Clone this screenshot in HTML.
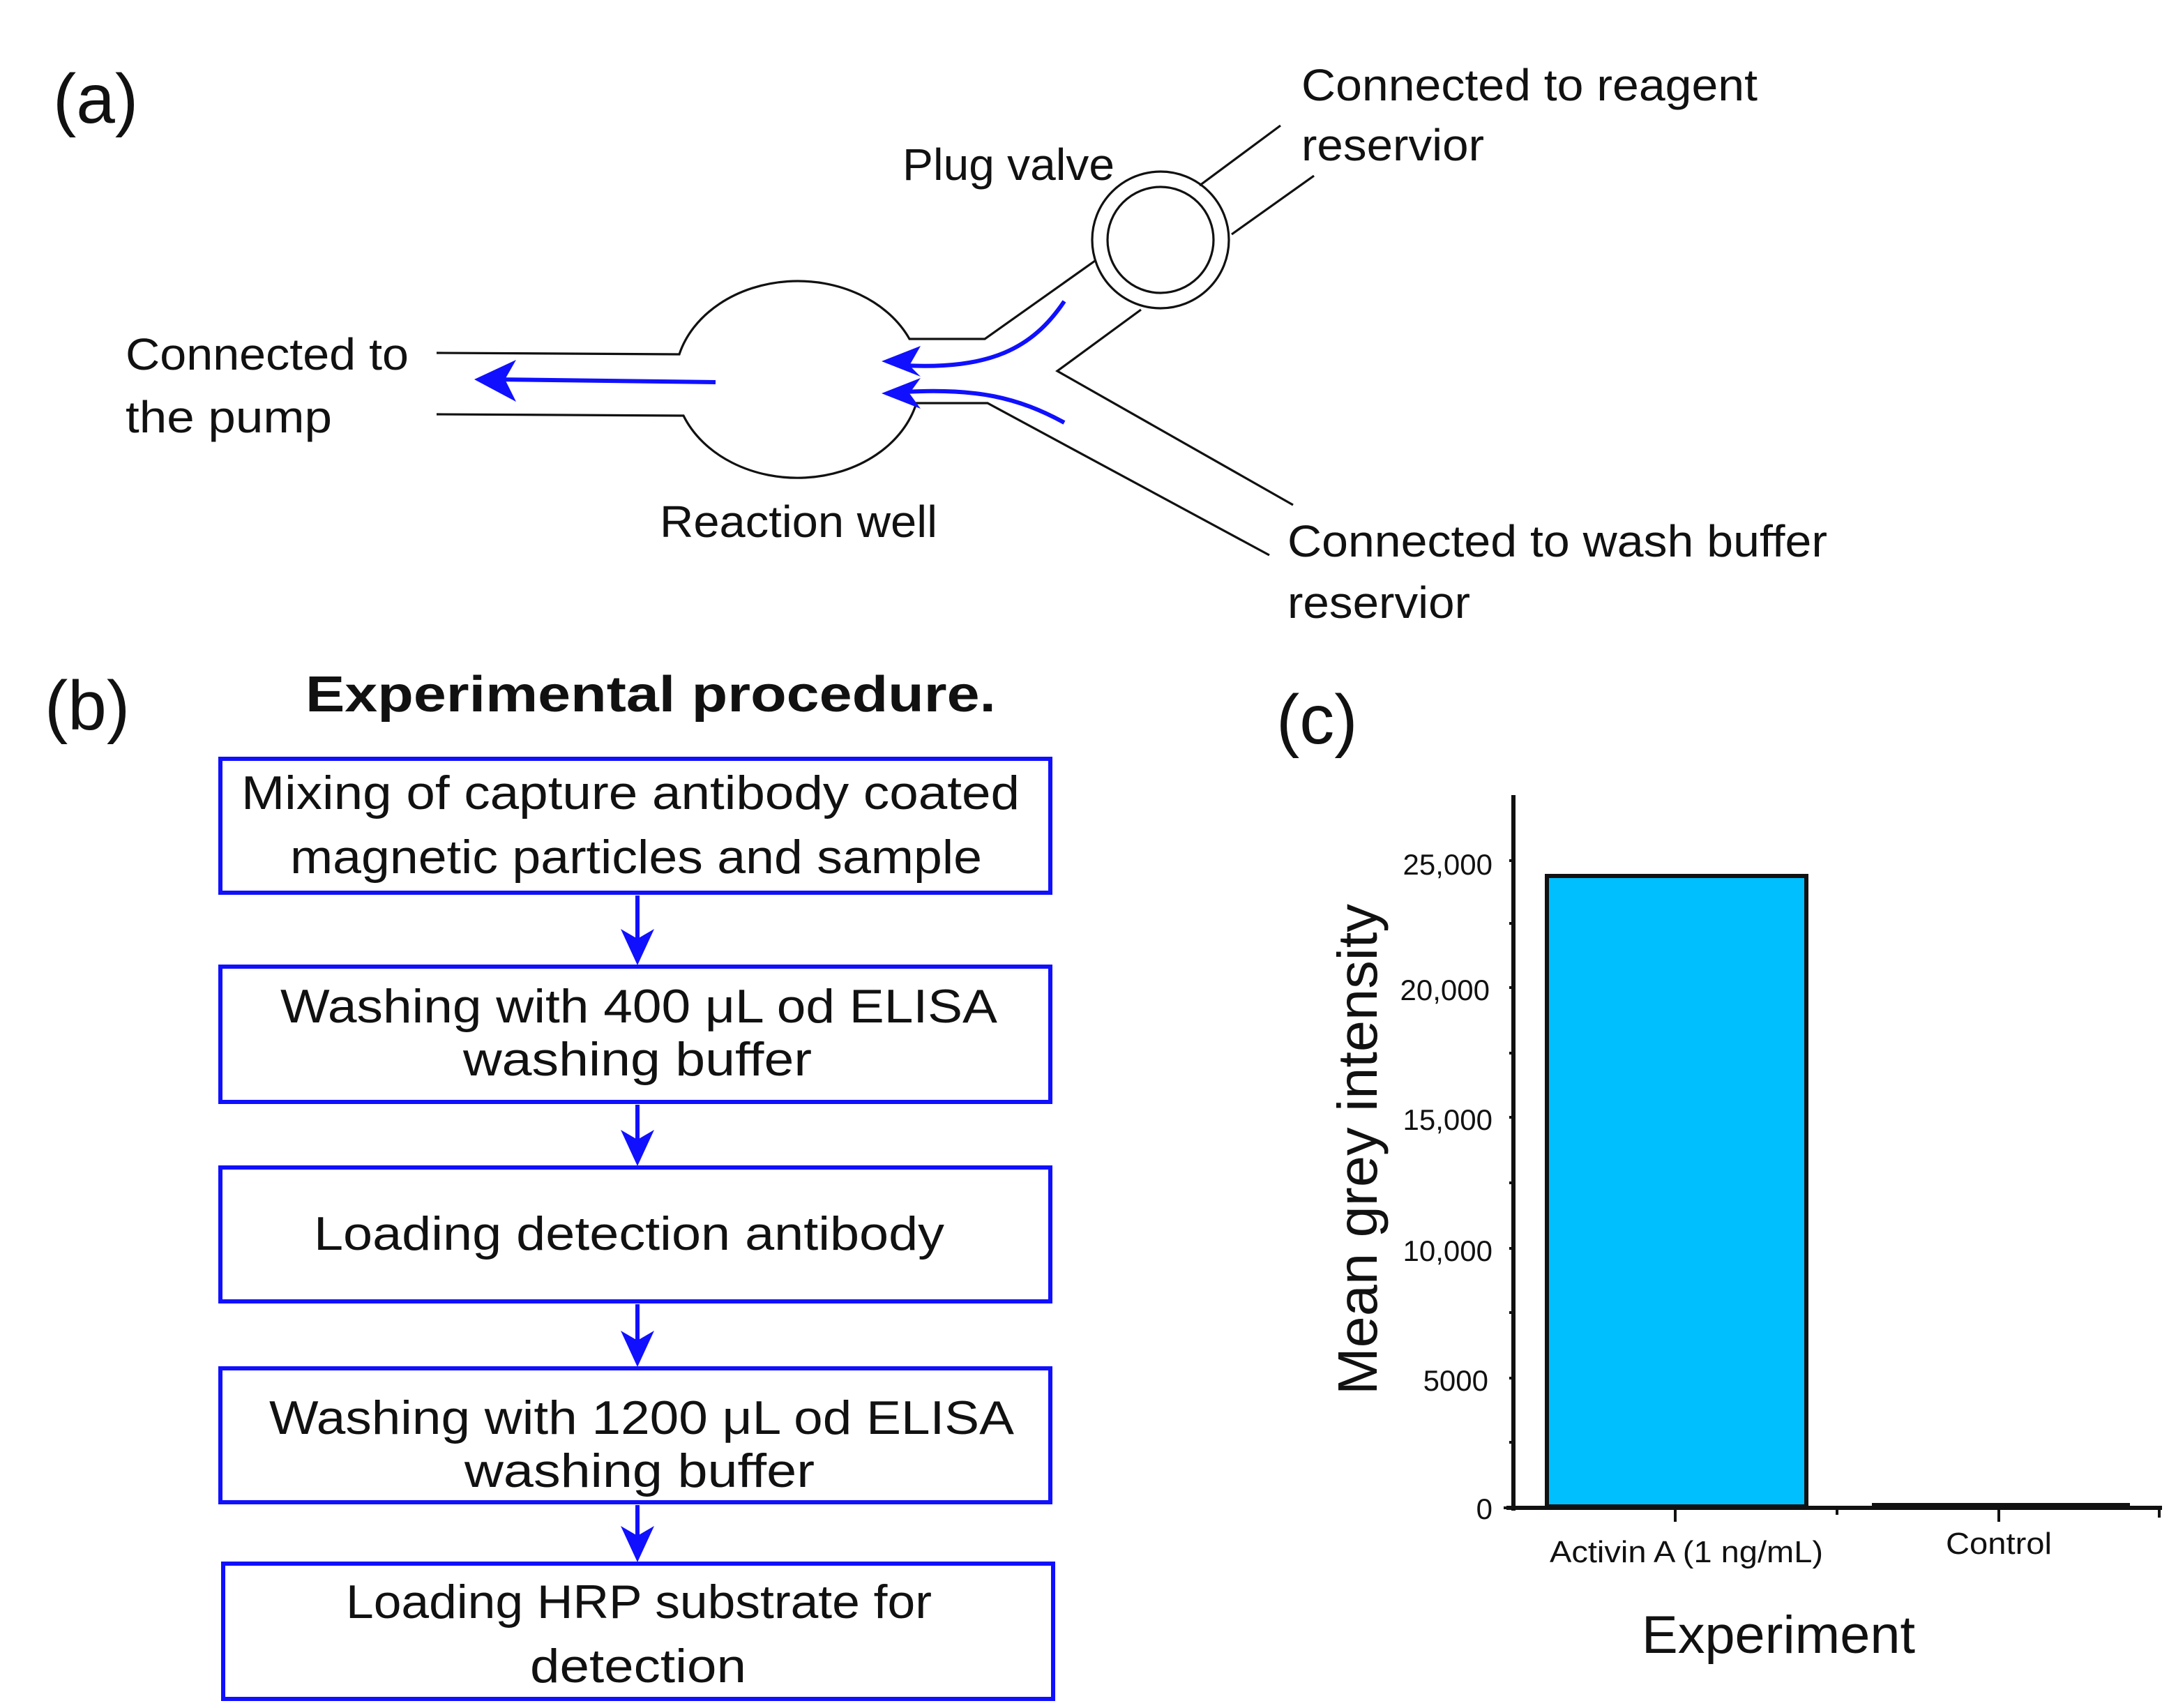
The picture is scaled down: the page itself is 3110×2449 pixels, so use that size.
<!DOCTYPE html>
<html><head><meta charset="utf-8"><style>
html,body{margin:0;padding:0;background:#fff}
svg{display:block}
text{font-family:"Liberation Sans",sans-serif;fill:#111}
</style></head><body>
<svg width="3110" height="2449" viewBox="0 0 1555 1224.5" xmlns="http://www.w3.org/2000/svg">
<!-- (a) -->
<text x="38" y="88" font-size="50">(a)</text>
<g font-size="32">
<text x="647" y="129" textLength="152" lengthAdjust="spacingAndGlyphs">Plug valve</text>
<text x="933" y="72" textLength="327" lengthAdjust="spacingAndGlyphs">Connected to reagent</text>
<text x="933" y="115" textLength="131" lengthAdjust="spacingAndGlyphs">reservior</text>
<text x="90" y="265" textLength="203" lengthAdjust="spacingAndGlyphs">Connected to</text>
<text x="90" y="310" textLength="148" lengthAdjust="spacingAndGlyphs">the pump</text>
<text x="473" y="385" textLength="199" lengthAdjust="spacingAndGlyphs">Reaction well</text>
<text x="923" y="399" textLength="387" lengthAdjust="spacingAndGlyphs">Connected to wash buffer</text>
<text x="923" y="443" textLength="131" lengthAdjust="spacingAndGlyphs">reservior</text>
</g>
<g fill="none" stroke="#111" stroke-width="1.6">
<circle cx="832" cy="172" r="49"/>
<circle cx="832" cy="172" r="38"/>
<path d="M313,253 L487,254 A88,71 0 0 1 652,243 L706,243 L785,187"/>
<path d="M313,297 L490,298 A88,71 0 0 0 657,289 L708,289 L910,398"/>
<path d="M818,222 L758,266 L927,362"/>
<path d="M860,133 L918,90"/>
<path d="M883,168 L942,126"/>
</g>
<g fill="none" stroke="#1010ff" stroke-width="3">
<path d="M513,274 L355,272"/>
<path d="M763,216 C740,250 710,265 648,262"/>
<path d="M763,303 C730,285 700,278 648,281"/>
</g>
<g fill="#1010ff">
<path d="M340,272 L370,258 L362,272 L370,288 Z"/>
<path d="M632,259 L660,248 L652,262 L660,270 Z"/>
<path d="M632,282 L660,271 L652,282 L660,293 Z"/>
</g>
<!-- (b) -->
<text x="32" y="523" font-size="50">(b)</text>
<text x="219" y="510" font-size="36" font-weight="bold" textLength="495" lengthAdjust="spacingAndGlyphs">Experimental procedure.</text>
<g fill="none" stroke="#1010ff" stroke-width="3">
<rect x="158" y="544" width="595" height="96"/>
<rect x="158" y="693" width="595" height="97"/>
<rect x="158" y="837" width="595" height="96"/>
<rect x="158" y="981" width="595" height="96"/>
<rect x="160" y="1121" width="595" height="97"/>
<line x1="457" y1="642" x2="457" y2="680"/>
<line x1="457" y1="792" x2="457" y2="825"/>
<line x1="457" y1="935" x2="457" y2="968"/>
<line x1="457" y1="1079" x2="457" y2="1108"/>
</g>
<g fill="#1010ff">
<path d="M445,666 L457,692 L469,666 L457,673 Z"/>
<path d="M445,810 L457,836 L469,810 L457,817 Z"/>
<path d="M445,954 L457,980 L469,954 L457,961 Z"/>
<path d="M445,1094 L457,1120 L469,1094 L457,1101 Z"/>
</g>
<g font-size="34">
<text x="173" y="580" textLength="558" lengthAdjust="spacingAndGlyphs">Mixing of capture antibody coated</text>
<text x="208" y="626" textLength="496" lengthAdjust="spacingAndGlyphs">magnetic particles and sample</text>
<text x="201" y="733" textLength="514" lengthAdjust="spacingAndGlyphs">Washing with 400 μL od ELISA</text>
<text x="332" y="771" textLength="250" lengthAdjust="spacingAndGlyphs">washing buffer</text>
<text x="225" y="896" textLength="452" lengthAdjust="spacingAndGlyphs">Loading detection antibody</text>
<text x="193" y="1028" textLength="534" lengthAdjust="spacingAndGlyphs">Washing with 1200 μL od ELISA</text>
<text x="333" y="1066" textLength="251" lengthAdjust="spacingAndGlyphs">washing buffer</text>
<text x="248" y="1160" textLength="420" lengthAdjust="spacingAndGlyphs">Loading HRP substrate for</text>
<text x="380" y="1206" textLength="155" lengthAdjust="spacingAndGlyphs">detection</text>
</g>
<!-- (c) -->
<text x="915" y="533" font-size="50">(c)</text>
<g stroke="#111" fill="none">
<line x1="1085" y1="570" x2="1085" y2="1083" stroke-width="3"/>
<line x1="1080" y1="1081" x2="1550" y2="1081" stroke-width="3"/>
<g stroke-width="2">
<line x1="1201" y1="1081" x2="1201" y2="1091"/>
<line x1="1433" y1="1081" x2="1433" y2="1091"/>
<line x1="1317" y1="1081" x2="1317" y2="1086"/>
<line x1="1548" y1="1081" x2="1548" y2="1088"/>
<line x1="1078" y1="1081" x2="1085" y2="1081"/>
<line x1="1082" y1="988" x2="1085" y2="988"/>
<line x1="1082" y1="895" x2="1085" y2="895"/>
<line x1="1082" y1="801" x2="1085" y2="801"/>
<line x1="1082" y1="708" x2="1085" y2="708"/>
<line x1="1082" y1="617" x2="1085" y2="617"/>
<line x1="1082" y1="1034" x2="1085" y2="1034"/>
<line x1="1082" y1="941" x2="1085" y2="941"/>
<line x1="1082" y1="848" x2="1085" y2="848"/>
<line x1="1082" y1="755" x2="1085" y2="755"/>
<line x1="1082" y1="662" x2="1085" y2="662"/>
</g>
</g>
<rect x="1109" y="628" width="186" height="452" fill="#00bfff" stroke="#111" stroke-width="3"/>
<line x1="1342" y1="1079" x2="1527" y2="1079" stroke="#111" stroke-width="3"/>
<g font-size="21" text-anchor="end">
<text x="1070" y="1089">0</text>
<text x="1067" y="997">5000</text>
<text x="1070" y="904">10,000</text>
<text x="1070" y="810">15,000</text>
<text x="1068" y="717">20,000</text>
<text x="1070" y="627">25,000</text>
</g>
<text x="1111" y="1120" font-size="22" textLength="196" lengthAdjust="spacingAndGlyphs">Activin A (1 ng/mL)</text>
<text x="1395" y="1114" font-size="22" textLength="76" lengthAdjust="spacingAndGlyphs">Control</text>
<text x="1177" y="1185" font-size="38" textLength="196" lengthAdjust="spacingAndGlyphs">Experiment</text>
<text transform="translate(987,1000) rotate(-90)" font-size="40" textLength="352" lengthAdjust="spacingAndGlyphs">Mean grey intensity</text>
</svg>
</body></html>
